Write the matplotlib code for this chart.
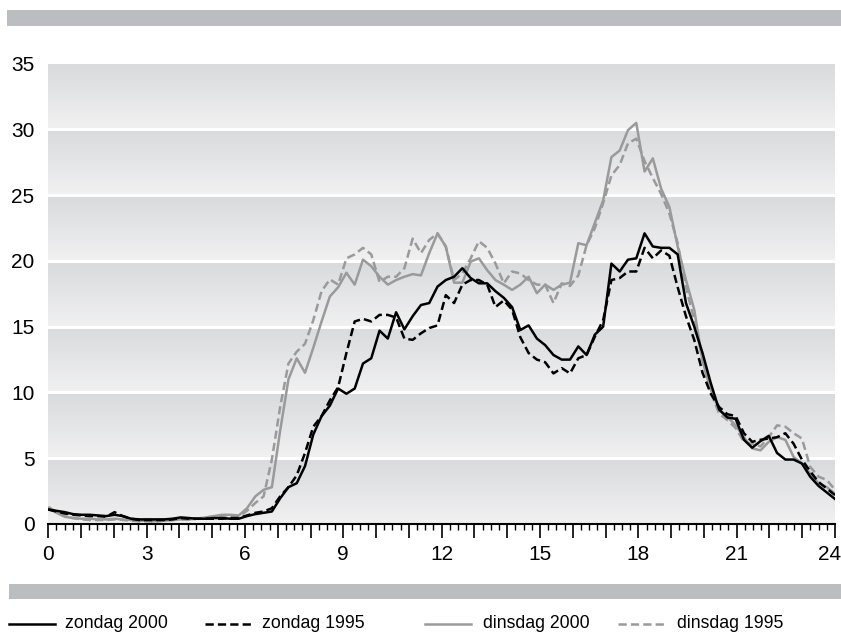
import numpy as np
import matplotlib
matplotlib.use("Agg")
import matplotlib.pyplot as plt
import matplotlib.transforms as mtransforms
from matplotlib.colors import LinearSegmentedColormap
from matplotlib.lines import Line2D
from matplotlib.patches import Rectangle
from matplotlib.ticker import MultipleLocator, FixedLocator, FixedFormatter

# 96 kwartierwaarden per dag, uitgezet over 0-24 uur
hours = np.linspace(0, 24, 96)

zondag_2000 = [
    1.1, 1.0, 0.9, 0.75, 0.7, 0.7, 0.65, 0.6, 0.7, 0.6, 0.4, 0.35,
    0.35, 0.35, 0.35, 0.4, 0.5, 0.45, 0.4, 0.4, 0.45, 0.45, 0.4, 0.4,
    0.6, 0.75, 0.85, 0.95, 1.95, 2.8, 3.1, 4.4, 6.8, 8.2, 9.0, 10.3,
    9.9, 10.3, 12.2, 12.6, 14.7, 14.1, 16.1, 14.8, 15.8, 16.65, 16.8, 18.05,
    18.55, 18.8, 19.45, 18.7, 18.3, 18.3, 17.7, 17.2, 16.5, 14.75, 15.1, 14.1,
    13.6, 12.85, 12.5, 12.5, 13.5, 12.85, 14.4, 15.0, 19.8, 19.2, 20.1, 20.2,
    22.1, 21.1, 21.0, 21.0, 20.5, 16.8, 15.0, 13.0, 10.7, 8.7, 8.1, 8.0,
    6.4, 5.8, 6.3, 6.7, 5.4, 4.9, 4.9, 4.6, 3.6, 2.9, 2.4, 1.9,
]
zondag_1995 = [
    1.1, 0.95, 0.8, 0.7, 0.65, 0.6, 0.6, 0.55, 0.9, 0.6, 0.4, 0.3,
    0.3, 0.3, 0.3, 0.35, 0.45, 0.4, 0.4, 0.4, 0.4, 0.4, 0.45, 0.45,
    0.65, 0.85, 0.95, 1.2, 2.1, 2.8, 3.7, 5.4, 7.4, 8.2, 9.4, 10.4,
    13.0, 15.4, 15.6, 15.4, 15.9, 15.9, 15.7, 14.1, 14.0, 14.5, 14.9, 15.1,
    17.4, 16.8, 18.2, 18.55, 18.55, 18.2, 16.5, 17.0, 16.3, 14.2, 13.0, 12.5,
    12.3, 11.45, 11.85, 11.45, 12.6, 12.85, 14.25, 15.5, 18.55, 18.7, 19.2, 19.2,
    21.0, 20.2, 20.8, 20.4, 18.0, 15.8, 14.0, 11.5, 9.9, 8.9, 8.35, 8.2,
    6.9, 6.25, 6.4, 6.5, 6.6, 6.9, 6.1, 4.9, 4.0, 3.2, 2.7, 2.2,
]
dinsdag_2000 = [
    1.2, 0.85, 0.55, 0.45, 0.4, 0.4, 0.35, 0.35, 0.4, 0.35, 0.3, 0.25,
    0.25, 0.2, 0.25, 0.3, 0.35, 0.35, 0.4, 0.5, 0.6, 0.7, 0.7, 0.65,
    1.2, 2.1, 2.6, 2.8, 7.1, 11.0, 12.6, 11.5, 13.4, 15.4, 17.3, 18.0,
    19.1, 18.2, 20.1, 19.6, 18.8, 18.2, 18.55, 18.8, 19.0, 18.9, 20.6, 22.1,
    21.1, 18.35, 18.35, 19.95, 20.2, 19.3, 18.55, 18.2, 17.8, 18.2, 18.8, 17.55,
    18.2, 17.8, 18.2, 18.35, 21.35, 21.2, 22.9, 24.6, 27.9, 28.4, 29.95, 30.5,
    26.8, 27.8, 25.5, 24.1, 21.1, 18.55, 16.3, 12.4, 10.2, 8.7, 8.15, 7.5,
    6.6, 5.75, 5.6, 6.25, 6.6, 6.4, 5.1, 4.6, 3.85, 3.1, 2.8, 2.3,
]
dinsdag_1995 = [
    1.3, 0.9, 0.6, 0.45, 0.35, 0.3, 0.3, 0.3, 0.35, 0.3, 0.25, 0.2,
    0.2, 0.2, 0.25, 0.3, 0.35, 0.35, 0.4, 0.5, 0.55, 0.6, 0.6, 0.55,
    1.0, 1.6, 2.1, 4.9, 8.9, 12.2, 13.1, 13.7, 15.5, 17.7, 18.6, 18.2,
    20.2, 20.5, 21.0, 20.5, 18.4, 18.8, 18.8, 19.45, 21.7, 20.6, 21.6, 22.1,
    21.1, 18.55, 19.05, 20.2, 21.5, 21.0, 19.8, 18.3, 19.2, 19.05, 18.55, 18.2,
    18.2, 16.8, 18.3, 18.1, 18.9, 21.2, 22.5, 24.4, 26.5, 27.3, 28.95, 29.3,
    27.6, 26.3, 25.1, 23.6, 21.35, 18.0, 15.5, 12.5, 10.0, 8.4, 7.9, 7.3,
    6.25, 6.1, 5.9, 6.6, 7.5, 7.4, 6.9, 6.5, 4.35, 3.6, 3.35, 2.6,
]

x_labels = ["0", "3", "6", "9", "12", "15", "18", "21", "24"]
y_ticks = [0, 5, 10, 15, 20, 25, 30, 35]
legend_labels = ["zondag 2000", "zondag 1995", "dinsdag 2000", "dinsdag 1995"]

GRAY = "#9a9a9a"
BAND = "#bcbdc0"
narrow = ["Liberation Sans Narrow", "Liberation Sans", "DejaVu Sans"]
regular = ["Liberation Sans", "DejaVu Sans"]

fig = plt.figure(figsize=(8.41, 6.32), dpi=100)
ax = fig.add_axes([0.0574, 0.1709, 0.9355, 0.7283])
ax.set_xlim(0, 24)
ax.set_ylim(0, 35)

# achtergrond: banden met verloop, wit ertussen
cmap = LinearSegmentedColormap.from_list("band", ["#f1f1f2", "#d9dadc"])
grad = np.linspace(0, 1, 128).reshape(-1, 1)
for lo in y_ticks[:-1]:
    ax.imshow(grad, cmap=cmap, extent=(0, 24, lo, lo + 5), origin="lower",
              aspect="auto", zorder=0, interpolation="bilinear")
for y in y_ticks[1:-1]:
    ax.axhline(y, color="white", lw=2.2, zorder=1)

lw = 1.8
dash = (3.3, 1.65)
ax.plot(hours, dinsdag_1995, color=GRAY, lw=lw, dashes=dash, zorder=2)
ax.plot(hours, dinsdag_2000, color=GRAY, lw=lw, zorder=3)
ax.plot(hours, zondag_1995, color="black", lw=lw, dashes=dash, zorder=4)
ax.plot(hours, zondag_2000, color="black", lw=lw, zorder=5)

for s in ["left", "right", "top"]:
    ax.spines[s].set_visible(False)
ax.spines["bottom"].set_linewidth(1.5)
ax.spines["bottom"].set_zorder(6)

ax.xaxis.set_major_locator(FixedLocator(range(0, 25)))
ax.xaxis.set_major_formatter(FixedFormatter(
    [x_labels[i // 3] if i % 3 == 0 else "" for i in range(25)]))
ax.xaxis.set_minor_locator(MultipleLocator(0.25))
ax.tick_params(axis="x", which="major", length=10, width=1.2, pad=5,
               direction="out", labelsize=15)
ax.tick_params(axis="x", which="minor", length=4, width=1.0, direction="out")
ax.set_yticks(y_ticks)
ax.tick_params(axis="y", length=0, pad=10, labelsize=15)
for lab in ax.get_xticklabels() + ax.get_yticklabels():
    lab.set_family(narrow)

# laatste label iets naar links zodat het binnen het beeld valt
last = ax.get_xticklabels()[-1]
last.set_transform(last.get_transform() +
                   mtransforms.ScaledTranslation(-5 / 100, 0, fig.dpi_scale_trans))

# grijze balken boven en onder
fig.add_artist(Rectangle((7 / 841, 1 - 25.7 / 632), 834 / 841, 15.7 / 632,
                         transform=fig.transFigure, color=BAND, lw=0))
fig.add_artist(Rectangle((9 / 841, 1 - 599.3 / 632), 832 / 841, 15.3 / 632,
                         transform=fig.transFigure, color=BAND, lw=0))

# legenda
handles = [(9, 55, "black", None), (205, 251, "black", dash),
           (425, 471, GRAY, None), (618, 667, GRAY, dash)]
text_x = [65, 262, 483, 677]
y_line = 1 - 624 / 632
y_text = 1 - 628 / 632
for (x0, x1, c, d), tx, lab in zip(handles, text_x, legend_labels):
    ln = Line2D([x0 / 841, x1 / 841], [y_line, y_line], color=c, lw=lw,
                transform=fig.transFigure)
    if d:
        ln.set_dashes(d)
    fig.add_artist(ln)
    fig.text(tx / 841, y_text, lab, fontsize=12.7, family=regular,
             va="baseline", ha="left")

fig.savefig("out.png", dpi=100)
